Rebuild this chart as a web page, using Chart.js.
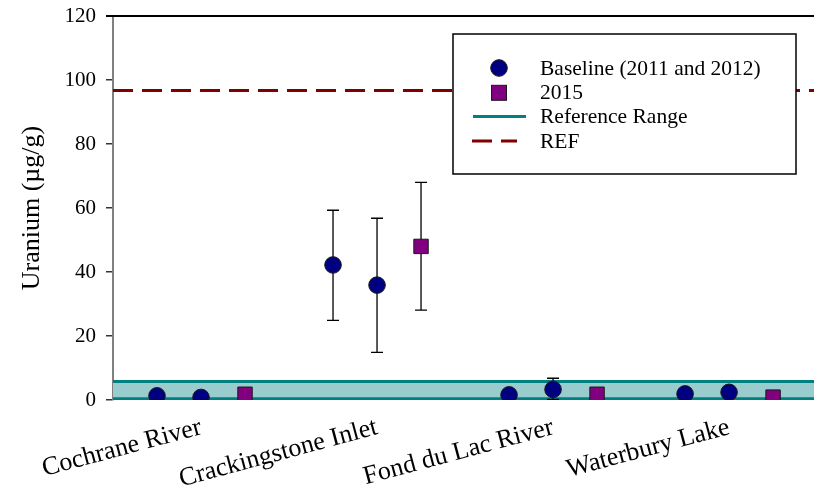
<!DOCTYPE html>
<html lang="en">
<head>
<meta charset="UTF-8">
<title>Uranium</title>
<script src="https://cdn.jsdelivr.net/npm/chart.js"></script>
<style>
  html, body { margin: 0; padding: 0; background: #fff; }
  #wrap { width: 814px; height: 486px; }
</style>
</head>
<body>
<div id="wrap"><canvas id="uraniumChart" width="814" height="486"></canvas></div>
<script>
// sites and values (ug/g)
var sites = ['Cochrane River', 'Crackingstone Inlet', 'Fond du Lac River', 'Waterbury Lake'];

var baseline2011 = [1.3, 42.2, 1.6, 1.9];
var baseline2011Low = [null, 24.9, null, null];
var baseline2011High = [null, 59.3, null, null];

var baseline2012 = [0.8, 35.9, 3.3, 2.4];
var baseline2012Low = [null, 14.9, 0.2, null];
var baseline2012High = [null, 56.8, 6.8, null];

var survey2015 = [1.8, 48.0, 1.8, 0.9];
var survey2015Low = [null, 28.1, null, null];
var survey2015High = [null, 68.0, null, null];

var refRangeLow = 0.4;
var refRangeHigh = 5.8;
var refValue = 96.7;

var yTicks = [0, 20, 40, 60, 80, 100, 120];

var FONT = "'Liberation Serif', 'Times New Roman', serif";
var X_MIN = 0, X_MAX = 15.93;

// each site gets 4 slots: 2011, 2012, 2015, gap
function slot(i, k) { return i * 4 + k; }

var baselinePts = [], baselineLo = [], baselineHi = [];
sites.forEach(function (s, i) {
    baselinePts.push({ x: slot(i, 1), y: baseline2011[i] });
    baselineLo.push(baseline2011Low[i]); baselineHi.push(baseline2011High[i]);
    baselinePts.push({ x: slot(i, 2), y: baseline2012[i] });
    baselineLo.push(baseline2012Low[i]); baselineHi.push(baseline2012High[i]);
});
var pts2015 = sites.map(function (s, i) { return { x: slot(i, 3), y: survey2015[i] }; });

var errorBars = {
    id: 'errorBars',
    beforeDatasetDraw: function (chart, args) {
        var ds = chart.data.datasets[args.index];
        if (!ds.errLow) return;
        var ctx = chart.ctx, ys = chart.scales.y;
        ctx.save();
        ctx.strokeStyle = '#000';
        ctx.lineWidth = 1.3;
        args.meta.data.forEach(function (pt, i) {
            if (ds.errLow[i] == null) return;
            var x = pt.x, y1 = ys.getPixelForValue(ds.errLow[i]), y2 = ys.getPixelForValue(ds.errHigh[i]);
            ctx.beginPath();
            ctx.moveTo(x, y1); ctx.lineTo(x, y2);
            ctx.moveTo(x - 6, y1); ctx.lineTo(x + 6, y1);
            ctx.moveTo(x - 6, y2); ctx.lineTo(x + 6, y2);
            ctx.stroke();
        });
        ctx.restore();
    }
};

var frameAndLegend = {
    id: 'frameAndLegend',
    afterDraw: function (chart) {
        var ctx = chart.ctx, a = chart.chartArea;
        ctx.save();
        // top frame line
        ctx.strokeStyle = '#000';
        ctx.lineWidth = 2;
        ctx.beginPath();
        ctx.moveTo(a.left - 7, a.top); ctx.lineTo(a.right, a.top);
        ctx.stroke();

        // legend box
        var bx = 453, by = 34, bw = 343, bh = 140;
        ctx.fillStyle = '#fff';
        ctx.fillRect(bx, by, bw, bh);
        ctx.lineWidth = 1.5;
        ctx.strokeStyle = '#000';
        ctx.strokeRect(bx, by, bw, bh);

        var ds = chart.data.datasets;
        var rows = [ds[0], ds[1], ds[2], ds[4]];
        var mx = 499, tx = 540, y0 = 69, dy = 24.3;
        ctx.font = '21.5px ' + FONT;
        ctx.textBaseline = 'middle';
        ctx.fillStyle = '#000';
        rows.forEach(function (d, i) {
            var y = y0 + i * dy;
            ctx.save();
            if (d.pointStyle === 'circle') {
                ctx.beginPath();
                ctx.arc(mx, y - 1, 8.3, 0, Math.PI * 2);
                ctx.fillStyle = d.backgroundColor; ctx.fill();
                ctx.strokeStyle = d.borderColor; ctx.lineWidth = 1; ctx.stroke();
            } else if (d.pointStyle === 'rect') {
                ctx.fillStyle = d.backgroundColor;
                ctx.fillRect(mx - 7.5, y - 8, 15, 15);
                ctx.strokeStyle = d.borderColor; ctx.lineWidth = 1;
                ctx.strokeRect(mx - 7.5, y - 8, 15, 15);
            } else {
                ctx.strokeStyle = d.borderColor;
                ctx.lineWidth = 3;
                ctx.setLineDash(d.borderDash || []);
                ctx.beginPath();
                ctx.moveTo(d.borderDash ? 472 : 473, y - 1);
                ctx.lineTo(d.borderDash ? 517 : 526, y - 1);
                ctx.stroke();
            }
            ctx.restore();
            ctx.fillText(d.label, tx, y);
        });
        ctx.restore();
    }
};

var ctx = document.getElementById('uraniumChart').getContext('2d');
var chart = new Chart(ctx, {
    type: 'scatter',
    data: {
        datasets: [{
            label: 'Baseline (2011 and 2012)',
            data: baselinePts,
            errLow: baselineLo,
            errHigh: baselineHi,
            pointStyle: 'circle',
            pointRadius: 8.3,
            backgroundColor: '#000080',
            borderColor: '#1a1a1a',
            borderWidth: 1,
            order: 1
        }, {
            label: '2015',
            data: pts2015,
            errLow: survey2015Low,
            errHigh: survey2015High,
            pointStyle: 'rect',
            pointRadius: 10.2,
            backgroundColor: '#800080',
            borderColor: '#1a1a1a',
            borderWidth: 1,
            order: 0
        }, {
            label: 'Reference Range',
            data: [{ x: X_MIN, y: refRangeHigh }, { x: X_MAX, y: refRangeHigh }],
            showLine: true,
            pointRadius: 0,
            borderColor: '#008080',
            borderWidth: 3,
            backgroundColor: '#99CCCC',
            fill: '+1',
            order: 4
        }, {
            label: 'Reference Range (low)',
            data: [{ x: X_MIN, y: refRangeLow }, { x: X_MAX, y: refRangeLow }],
            showLine: true,
            pointRadius: 0,
            borderColor: '#008080',
            borderWidth: 3,
            fill: false,
            order: 3
        }, {
            label: 'REF',
            data: [{ x: X_MIN, y: refValue }, { x: X_MAX, y: refValue }],
            showLine: true,
            pointRadius: 0,
            borderColor: '#800000',
            borderWidth: 3,
            borderDash: [20, 9],
            fill: false,
            order: 2
        }]
    },
    options: {
        responsive: false,
        animation: false,
        layout: { autoPadding: false, padding: { top: 16, right: 0, left: 0, bottom: 0 } },
        plugins: { legend: { display: false }, tooltip: { enabled: false } },
        scales: {
            x: {
                type: 'linear',
                min: X_MIN,
                max: X_MAX,
                afterBuildTicks: function (s) {
                    s.ticks = sites.map(function (n, i) { return { value: slot(i, 2) }; });
                },
                ticks: {
                    autoSkip: false,
                    minRotation: 15,
                    maxRotation: 15,
                    padding: 12,
                    color: '#000',
                    font: { family: FONT, size: 26 },
                    callback: function (v) { return sites[(v - 2) / 4]; }
                },
                grid: { display: false, drawTicks: false },
                border: { display: false },
                afterFit: function (s) { s.height = 86; s.paddingLeft = 0; s.paddingRight = 0; }
            },
            y: {
                min: 0,
                max: 120,
                afterBuildTicks: function (s) {
                    s.ticks = yTicks.map(function (v) { return { value: v }; });
                },
                ticks: {
                    color: '#000',
                    padding: 10,
                    font: { family: FONT, size: 21 }
                },
                grid: { drawOnChartArea: false, drawTicks: true, tickLength: 7, color: '#333', lineWidth: 1.5 },
                border: { color: '#808080', width: 2 },
                title: {
                    display: true,
                    text: 'Uranium (µg/g)',
                    color: '#000',
                    font: { family: FONT, size: 26 },
                    padding: { top: 17, bottom: 0 }
                },
                afterFit: function (s) { s.width = 113; s.paddingTop = 0; s.paddingBottom = 0; }
            }
        }
    },
    plugins: [errorBars, frameAndLegend]
});
</script>
</body>
</html>
